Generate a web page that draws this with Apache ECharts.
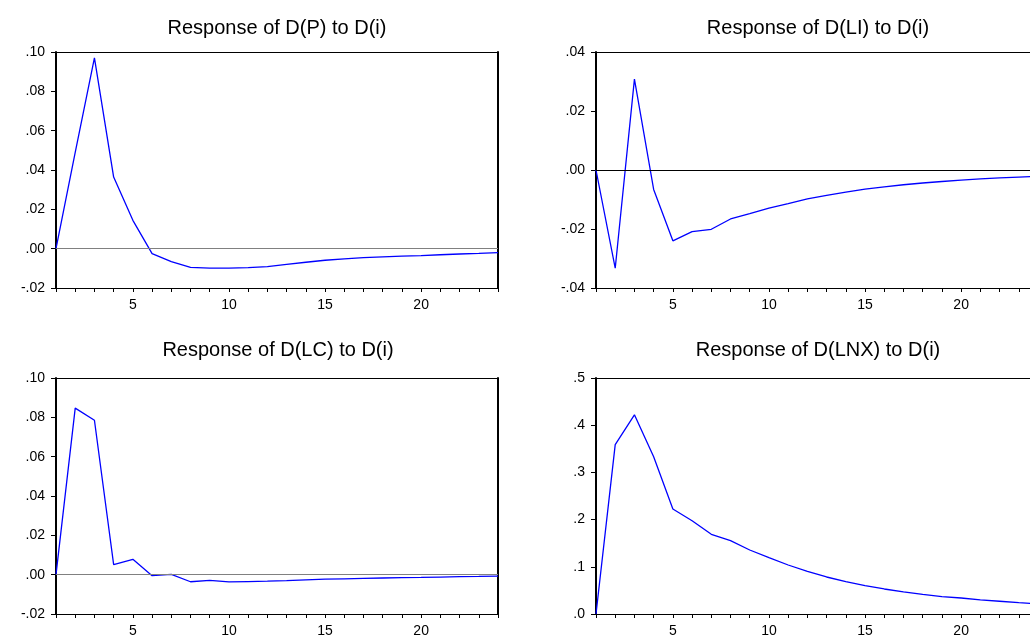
<!DOCTYPE html>
<html>
<head>
<meta charset="utf-8">
<script src="https://cdn.jsdelivr.net/npm/echarts@6/dist/echarts.min.js"></script>
<style>
html,body{margin:0;padding:0;background:#fff;}
#chart{width:1030px;height:635px;}
</style>
</head>
<body>
<div id="chart"></div>
<script>
// ---- data ----
const periods = [1,2,3,4,5,6,7,8,9,10,11,12,13,14,15,16,17,18,19,20,21,22,23,24];
const titles = ['Response of D(P) to D(i)','Response of D(LI) to D(i)','Response of D(LC) to D(i)','Response of D(LNX) to D(i)'];
const respP = [0, 0.049, 0.097, 0.0364, 0.0144, -0.0025, -0.0066, -0.0095, -0.0099, -0.0099, -0.0096, -0.0091, -0.0080, -0.0069, -0.0059, -0.0052, -0.0046, -0.0042, -0.0038, -0.0035, -0.0031, -0.0027, -0.0024, -0.0020];
const respLI = [0, -0.0333, 0.0308, -0.0066, -0.0240, -0.0209, -0.0201, -0.0166, -0.0148, -0.0129, -0.0114, -0.0098, -0.0086, -0.0075, -0.0065, -0.0057, -0.0050, -0.0044, -0.0039, -0.0034, -0.0030, -0.0027, -0.0024, -0.0021];
const respLC = [0, 0.0847, 0.0785, 0.0051, 0.0078, -0.0005, 0.0002, -0.0036, -0.0029, -0.0037, -0.0035, -0.0033, -0.0030, -0.0026, -0.0023, -0.0021, -0.0019, -0.0017, -0.0015, -0.0014, -0.0012, -0.0010, -0.0009, -0.0007];
const respLNX = [0, 0.359, 0.422, 0.333, 0.2225, 0.1977, 0.1688, 0.1554, 0.1356, 0.1194, 0.1038, 0.0904, 0.0784, 0.0685, 0.0600, 0.0530, 0.0470, 0.0415, 0.0370, 0.0339, 0.0300, 0.0270, 0.0240, 0.0212];
const yMins = [-0.02, -0.04, -0.02, 0];
const yMaxs = [0.10, 0.04, 0.10, 0.5];
const yIntervals = [0.02, 0.02, 0.02, 0.1];
const yDecimals = [2, 2, 2, 1];

// ---- layout ----
const seriesData = [respP, respLI, respLC, respLNX];
const layout = [
  {left: 56, top: 52, width: 442, height: 236, tx: 277, ty: 18, zero: '#808080'},
  {left: 596, top: 52, width: 442, height: 236, tx: 818, ty: 18, zero: '#000000'},
  {left: 56, top: 378, width: 442, height: 236, tx: 278, ty: 340, zero: '#808080'},
  {left: 596, top: 378, width: 442, height: 236, tx: 818, ty: 340, zero: null}
];
const FONT = 'Liberation Sans, Arial, Helvetica, sans-serif';

const grid = [], xAxis = [], yAxis = [], series = [], title = [];
layout.forEach((L, i) => {
  grid.push({left: L.left, top: L.top, width: L.width, height: L.height,
    containLabel: false, outerBoundsMode: 'none', show: false});
  title.push({
    text: titles[i], left: L.tx, top: L.ty, textAlign: 'center', padding: 0,
    textStyle: {fontFamily: FONT, fontSize: 20, fontWeight: 'normal', color: '#000'}
  });
  // main bottom x axis
  xAxis.push({
    type: 'category', gridIndex: i, data: periods, boundaryGap: false, position: 'bottom',
    axisLine: {show: true, onZero: false, lineStyle: {color: '#000', width: 1}},
    axisTick: {show: true, interval: 0, length: 4, inside: false, lineStyle: {color: '#000', width: 1}},
    axisLabel: {show: true, margin: 10, color: '#000', fontFamily: FONT, fontSize: 14,
      interval: (idx, val) => Number(val) % 5 === 0},
    splitLine: {show: false}
  });
  // top frame
  xAxis.push({
    type: 'category', gridIndex: i, data: periods, boundaryGap: false, position: 'top',
    axisLine: {show: true, onZero: false, lineStyle: {color: '#000', width: 1}},
    axisTick: {show: false}, axisLabel: {show: false}, splitLine: {show: false}
  });
  const dec = yDecimals[i];
  yAxis.push({
    type: 'value', gridIndex: i, min: yMins[i], max: yMaxs[i], interval: yIntervals[i], position: 'left',
    axisLine: {show: true, onZero: false, lineStyle: {color: '#000', width: 2}},
    axisTick: {show: true, length: 5, inside: false, lineStyle: {color: '#000', width: 1}},
    axisLabel: {show: true, margin: 11, color: '#000', fontFamily: FONT, fontSize: 14,
      formatter: v => { let s = Math.abs(v) < 1e-9 ? (0).toFixed(dec) : v.toFixed(dec); return s.replace('0.', '.'); }},
    splitLine: {show: false}
  });
  // right frame
  yAxis.push({
    type: 'value', gridIndex: i, min: yMins[i], max: yMaxs[i], interval: yIntervals[i], position: 'right',
    axisLine: {show: true, onZero: false, lineStyle: {color: '#000', width: 2}},
    axisTick: {show: false}, axisLabel: {show: false}, splitLine: {show: false}
  });
  const s = {
    type: 'line', xAxisIndex: 2 * i, yAxisIndex: 2 * i, data: seriesData[i],
    symbol: 'none', showSymbol: false, smooth: false,
    lineStyle: {color: '#0000ff', width: 1.3}, z: 3
  };
  if (L.zero) {
    s.markLine = {
      silent: true, symbol: ['none', 'none'], animation: false,
      label: {show: false},
      lineStyle: {color: L.zero, width: 1.2, type: 'solid'},
      emphasis: {disabled: true},
      data: [{yAxis: 0}]
    };
  }
  series.push(s);
});

const chart = echarts.init(document.getElementById('chart'), null, {renderer: 'canvas'});
chart.setOption({
  animation: false,
  backgroundColor: '#ffffff',
  title, grid, xAxis, yAxis, series
});
</script>
</body>
</html>
